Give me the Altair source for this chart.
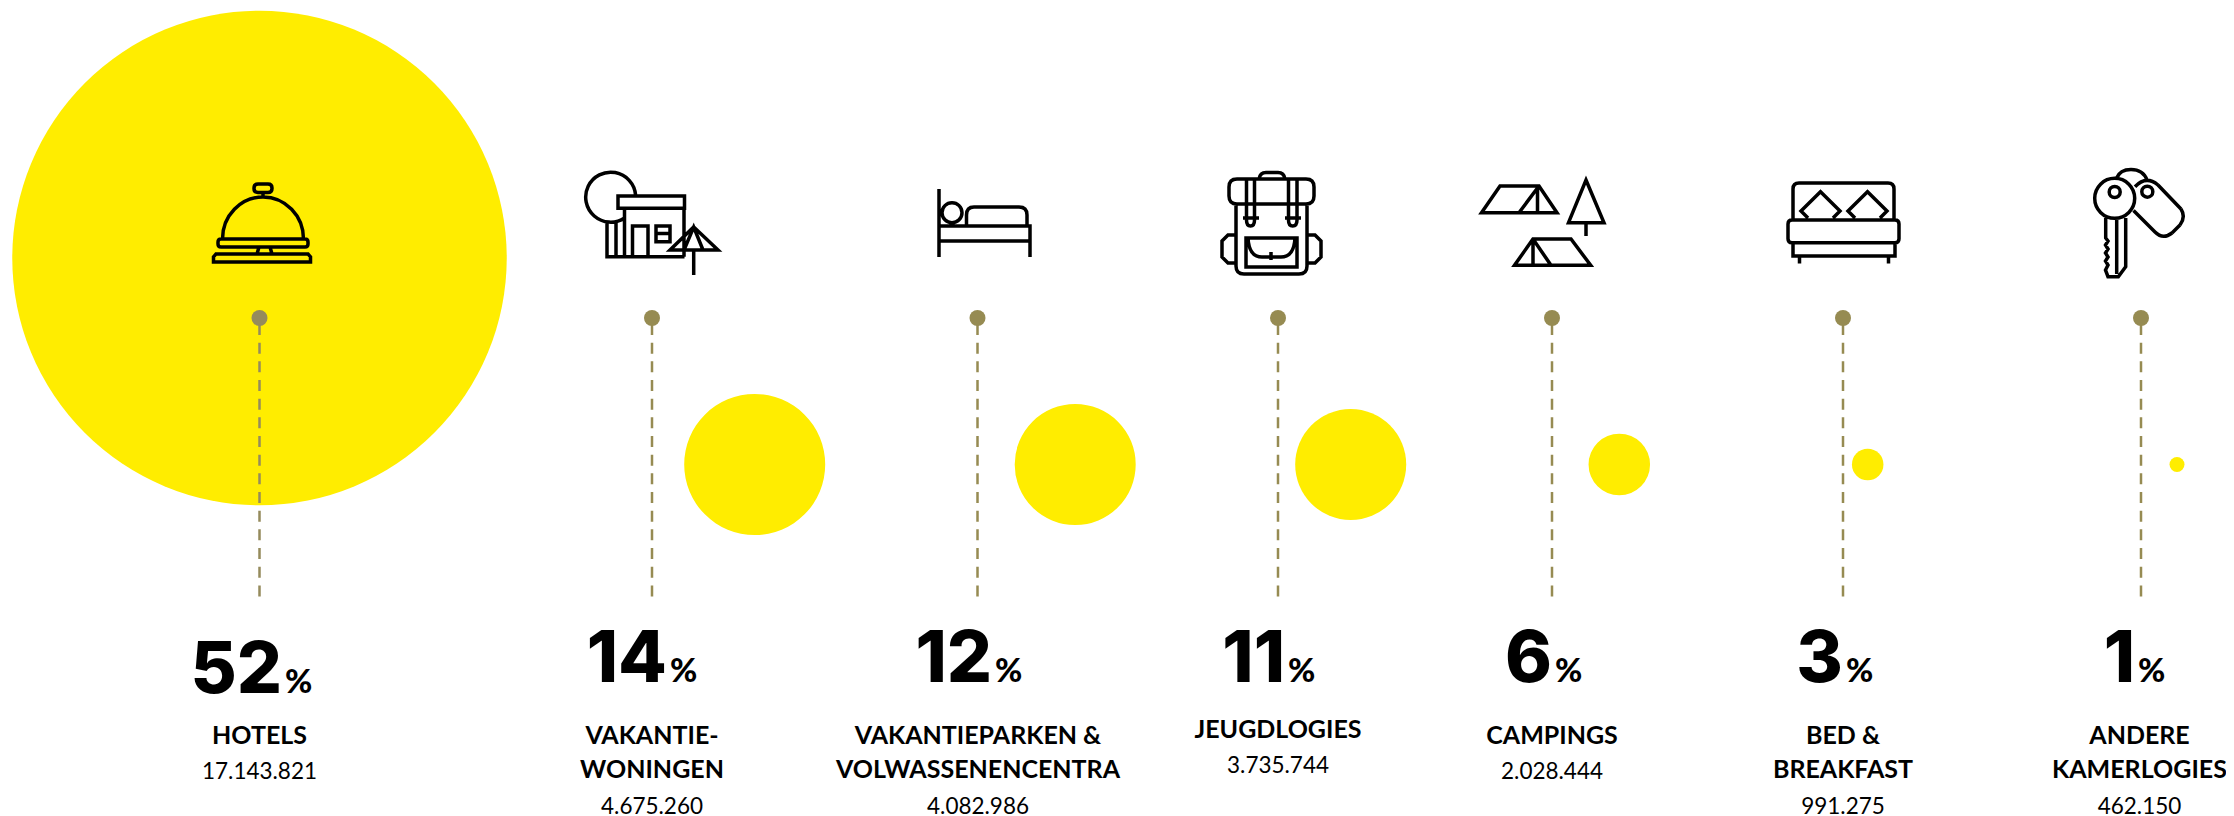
import altair as alt
import pandas as pd

# ---- values ----
names = ["HOTELS", "VAKANTIEWONINGEN", "VAKANTIEPARKEN", "JEUGDLOGIES", "CAMPINGS", "BED", "ANDERE"]
percent = ["52", "14", "12", "11", "6", "3", "1"]
counts = ["17.143.821", "4.675.260", "4.082.986", "3.735.744", "2.028.444", "991.275", "462.150"]
label_lines = [["HOTELS"], ["VAKANTIE-", "WONINGEN"], ["VAKANTIEPARKEN &", "VOLWASSENENCENTRA"],
               ["JEUGDLOGIES"], ["CAMPINGS"], ["BED &", "BREAKFAST"], ["ANDERE", "KAMERLOGIES"]]

# ---- layout, in page pixels ----
W, H = 2218, 808
stem_x = [259.5, 652, 977.5, 1278, 1552, 1843, 2141]
label_x = [259.5, 652, 978, 1278, 1552, 1843, 2139.5]
bubble_x = [259.5, 754.7, 1075.2, 1350.7, 1619.3, 1867.7, 2177]
bubble_y = [258, 464.5, 464.5, 464.5, 464.5, 464.5, 464.5]
bubble_d = [494.5, 141, 121, 111, 61.5, 31.5, 15]
number_right = [282, 667, 992, 1285, 1552, 1843, 2135]
number_base = [693, 682, 682, 682, 682, 682, 682]
label_base = [744, 744, 744, 738, 744, 744, 744]
dot_colors = ["#958B5C", "#968B52", "#968B52", "#968B52", "#968B52", "#968B52", "#968B52"]
ICON_Y = 225
DOT_Y = 318
STEM_TOP, STEM_BOTTOM = 324, 597
YELLOW = "#FFED00"
BODY = "Lato"
HEAVY = "Inter"


def icon(ax, ay, parts):
    """Join outline parts given in page pixels, as offsets from the icon's anchor."""
    def fx(v): return f"{v - ax:.1f}"
    def fy(v): return f"{v - ay:.1f}"
    out = []
    for p in parts:
        kind = p[0]
        if kind == "poly":
            pts = p[1]
            s = "M" + " L".join(f"{fx(x)} {fy(y)}" for x, y in pts)
            if len(p) > 2:
                s += " Z"
            out.append(s)
        elif kind == "circle":
            cx, cy, r = p[1:]
            out.append(f"M{fx(cx - r)} {fy(cy)} A{r} {r} 0 1 1 {fx(cx + r)} {fy(cy)} A{r} {r} 0 1 1 {fx(cx - r)} {fy(cy)} Z")
        elif kind == "arc":
            (x0, y0), (x1, y1), rx, ry, large, sweep = p[1:]
            out.append(f"M{fx(x0)} {fy(y0)} A{rx} {ry} 0 {large} {sweep} {fx(x1)} {fy(y1)}")
        elif kind == "rrect":
            x0, y0, x1, y1, r = p[1:]
            out.append(
                f"M{fx(x0 + r)} {fy(y0)} L{fx(x1 - r)} {fy(y0)} Q{fx(x1)} {fy(y0)} {fx(x1)} {fy(y0 + r)} "
                f"L{fx(x1)} {fy(y1 - r)} Q{fx(x1)} {fy(y1)} {fx(x1 - r)} {fy(y1)} "
                f"L{fx(x0 + r)} {fy(y1)} Q{fx(x0)} {fy(y1)} {fx(x0)} {fy(y1 - r)} "
                f"L{fx(x0)} {fy(y0 + r)} Q{fx(x0)} {fy(y0)} {fx(x0 + r)} {fy(y0)} Z")
        elif kind == "curve":
            # start, then (control, end) pairs as quadratics
            pts = p[1]
            s = f"M{fx(pts[0][0])} {fy(pts[0][1])}"
            for i in range(1, len(pts) - 1, 2):
                s += f" Q{fx(pts[i][0])} {fy(pts[i][1])} {fx(pts[i + 1][0])} {fy(pts[i + 1][1])}"
            out.append(s)
    return " ".join(out)


icons = [
    icon(259.5, ICON_Y, [
        ("rrect", 254, 184, 272, 192.5, 4),
        ("poly", [(263, 192.5), (263, 197)]),
        ("arc", (222.5, 239), (303.5, 239), 40.5, 42, 0, 1),
        ("rrect", 218, 239, 308, 247, 3),
        ("poly", [(257, 254), (259, 247)]), ("poly", [(270, 247), (272, 254)]),
        ("poly", [(213.5, 262), (213.5, 257), (216, 254), (308, 254), (310.5, 257), (310.5, 262)], "z"),
    ]),
    icon(652, ICON_Y, [
        ("arc", (635.6, 195), (624.5, 218), 25, 25, 1, 0),
        ("poly", [(618, 196), (684.5, 196), (684.5, 208.3), (618, 208.3)], "z"),
        ("poly", [(624.5, 208.3), (624.5, 256.7)]),
        ("poly", [(684, 208.3), (684, 256.7)]),
        ("poly", [(607, 222), (607, 256.7), (684.5, 256.7)]),
        ("poly", [(616, 222), (616, 256.7)]),
        ("poly", [(632.5, 256.7), (632.5, 226), (648, 226), (648, 256.7)]),
        ("poly", [(656, 226), (670, 226), (670, 241.7), (656, 241.7)], "z"),
        ("poly", [(656, 233.5), (670, 233.5)]),
        ("poly", [(693.7, 227), (718, 250), (670, 250)], "z"),
        ("poly", [(684, 250), (693.7, 227), (703, 250)]),
        ("poly", [(693.7, 250), (693.7, 275)]),
    ]),
    icon(977.5, ICON_Y, [
        ("poly", [(939, 189), (939, 257)]),
        ("poly", [(939, 226), (1030, 226), (1030, 257)]),
        ("poly", [(939, 241), (1030, 241)]),
        ("circle", 952, 212.7, 10),
        ("curve", [(966.5, 226), (966.5, 215), (966.5, 215), (966.5, 207), (974, 207)]),
        ("poly", [(974, 207), (1019, 207)]),
        ("curve", [(1019, 207), (1027, 207), (1027, 215)]),
        ("poly", [(1027, 215), (1027, 226)]),
    ]),
    icon(1278, ICON_Y, [
        ("curve", [(1259, 179), (1260, 172.5), (1266, 172.5)]),
        ("poly", [(1266, 172.5), (1278, 172.5)]),
        ("curve", [(1278, 172.5), (1284, 172.5), (1285, 179)]),
        ("rrect", 1229, 179, 1314, 204, 8),
        ("poly", [(1236, 204), (1236, 266)]),
        ("curve", [(1236, 266), (1236, 274), (1244, 274)]),
        ("poly", [(1244, 274), (1299, 274)]),
        ("curve", [(1299, 274), (1307, 274), (1307, 266)]),
        ("poly", [(1307, 266), (1307, 204)]),
        ("poly", [(1236, 235), (1228, 235), (1222, 241), (1222, 257), (1228, 263), (1236, 263)]),
        ("poly", [(1307, 235), (1315, 235), (1321, 241), (1321, 257), (1315, 263), (1307, 263)]),
        ("poly", [(1246.5, 180), (1246.5, 220)]),
        ("curve", [(1246.5, 220), (1246.5, 226), (1250.5, 226), (1254.5, 226), (1254.5, 220)]),
        ("poly", [(1254.5, 220), (1254.5, 180)]),
        ("poly", [(1243, 218), (1259, 218)]),
        ("poly", [(1288.5, 180), (1288.5, 220)]),
        ("curve", [(1288.5, 220), (1288.5, 226), (1292.7, 226), (1297, 226), (1297, 220)]),
        ("poly", [(1297, 220), (1297, 180)]),
        ("poly", [(1285, 218), (1301, 218)]),
        ("poly", [(1246, 238), (1297, 238), (1297, 267), (1246, 267)], "z"),
        ("curve", [(1248, 238), (1249, 257), (1262, 257)]),
        ("poly", [(1262, 257), (1281, 257)]),
        ("curve", [(1281, 257), (1294, 257), (1295, 238)]),
        ("poly", [(1271, 252), (1271, 260)]),
    ]),
    icon(1552, ICON_Y, [
        ("poly", [(1500, 186), (1539, 186), (1557, 212.7), (1481.5, 212.7)], "z"),
        ("poly", [(1519, 212.7), (1539, 186)]),
        ("poly", [(1537.5, 186), (1537.5, 212.7)]),
        ("poly", [(1586, 180), (1604, 222.7), (1568.5, 222.7)], "z"),
        ("poly", [(1586, 222.7), (1586, 236)]),
        ("poly", [(1533, 239), (1571, 239), (1590.7, 265.3), (1514.5, 265.3)], "z"),
        ("poly", [(1533, 239), (1551, 265.3)]),
        ("poly", [(1533, 239), (1533, 265.3)]),
    ]),
    icon(1843, ICON_Y, [
        ("poly", [(1793, 220), (1793, 189)]),
        ("curve", [(1793, 189), (1793, 183), (1799, 183)]),
        ("poly", [(1799, 183), (1888, 183)]),
        ("curve", [(1888, 183), (1894, 183), (1894, 189)]),
        ("poly", [(1894, 189), (1894, 220)]),
        ("poly", [(1808, 218), (1801, 211), (1820.5, 191.7), (1840, 211), (1833, 218)]),
        ("poly", [(1855, 218), (1848, 211), (1867.5, 191.7), (1887, 211), (1880, 218)]),
        ("rrect", 1788, 220, 1899, 242.7, 4),
        ("poly", [(1793, 242.7), (1793, 256), (1895, 256), (1895, 242.7)]),
        ("poly", [(1799.5, 256), (1799.5, 263.5)]),
        ("poly", [(1888.5, 256), (1888.5, 263.5)]),
    ]),
    icon(2141, ICON_Y, [
        ("circle", 2114.7, 198.3, 20),
        ("circle", 2114.7, 192, 5.5),
        ("poly", [(2105.7, 218), (2105.7, 238), (2108, 241), (2105.5, 245), (2108, 249),
                  (2105.5, 253), (2108, 257), (2105.5, 261), (2108, 265), (2105.5, 270),
                  (2108, 276.7), (2118.3, 276.7), (2125.7, 266.7), (2125.7, 218)]),
        ("poly", [(2116.7, 218), (2116.7, 274)]),
        ("curve", [(2116.7, 178), (2120, 169.5), (2131, 169.5), (2143, 169.5), (2147, 180)]),
        ("circle", 2147.3, 191.7, 5.5),
        ("curve", [(2135, 186.7), (2146, 175), (2158, 185)]),
        ("poly", [(2158, 185), (2181, 209)]),
        ("curve", [(2181, 209), (2186, 217), (2180, 225)]),
        ("poly", [(2180, 225), (2172, 233)]),
        ("curve", [(2172, 233), (2163, 240), (2155, 232)]),
        ("poly", [(2155, 232), (2133.5, 210.5)]),
    ]),
]

# ---- tables ----
columns = pd.DataFrame({
    "name": names, "stem": stem_x, "bx": bubble_x, "by": bubble_y,
    "area": [d * d for d in bubble_d], "col": dot_colors,
    "num": percent, "right": number_right, "base": number_base, "icon": icons,
    "dot": DOT_Y, "top": STEM_TOP, "bottom": STEM_BOTTOM, "iy": ICON_Y,
})
columns["left"] = columns["right"] + 3

line_rows, count_rows = [], []
for lines, c, x, b in zip(label_lines, counts, label_x, label_base):
    for i, t in enumerate(lines):
        line_rows.append({"text": t, "x": x, "y": b + i * 34})
    count_rows.append({"text": c, "x": x, "y": b + 35 + (len(lines) - 1) * 35})
labels = pd.DataFrame(line_rows)
tallies = pd.DataFrame(count_rows)

xs = alt.Scale(domain=[8, W + 8], range=[0, W], nice=False, zero=False)
ys = alt.Scale(domain=[8, H + 8], range=[0, H], nice=False, zero=False)


def X(f): return alt.X(f"{f}:Q", scale=xs, axis=None)
def Y(f): return alt.Y(f"{f}:Q", scale=ys, axis=None)


base = alt.Chart(columns)
col = alt.Color("col:N", scale=None)

bubbles = base.mark_circle(color=YELLOW, opacity=1).encode(
    x=X("bx"), y=Y("by"), size=alt.Size("area:Q", scale=None))
stems = base.mark_rule(strokeWidth=2.5, strokeDash=[11, 7.67]).encode(
    x=X("stem"), y=Y("top"), y2="bottom:Q", color=col)
dots = base.mark_circle(opacity=1, size=256).encode(x=X("stem"), y=Y("dot"), color=col)
icon_marks = base.mark_point(size=4, filled=False, opacity=1, stroke="#000000",
                             strokeWidth=3.5).encode(
    x=X("stem"), y=Y("iy"), shape=alt.Shape("icon:N", scale=None))
big = base.mark_text(font=HEAVY, fontSize=71, fontWeight=800, align="right",
                     baseline="alphabetic", color="#000000").encode(
    x=X("right"), y=Y("base"), text="num:N")
pct = base.mark_text(font=BODY, fontSize=33, fontWeight=900, align="left",
                     baseline="alphabetic", color="#000000", text="%").encode(
    x=X("left"), y=Y("base"))
label_marks = alt.Chart(labels).mark_text(font=BODY, fontSize=25, fontWeight=700, align="center",
                                          baseline="alphabetic", color="#000000").encode(
    x=X("x"), y=Y("y"), text="text:N")
count_marks = alt.Chart(tallies).mark_text(font=BODY, fontSize=22.5, fontWeight=400, align="center",
                                           baseline="alphabetic", color="#000000").encode(
    x=X("x"), y=Y("y"), text="text:N")

chart = (
    alt.layer(bubbles, stems, dots, icon_marks, big, pct, label_marks, count_marks)
    .properties(width=W, height=H, padding=0, autosize=alt.AutoSizeParams(type="none"), background="#ffffff")
    .configure_view(stroke=None)
)
chart.save("out.html", embed_options={"renderer": "svg", "actions": False})
